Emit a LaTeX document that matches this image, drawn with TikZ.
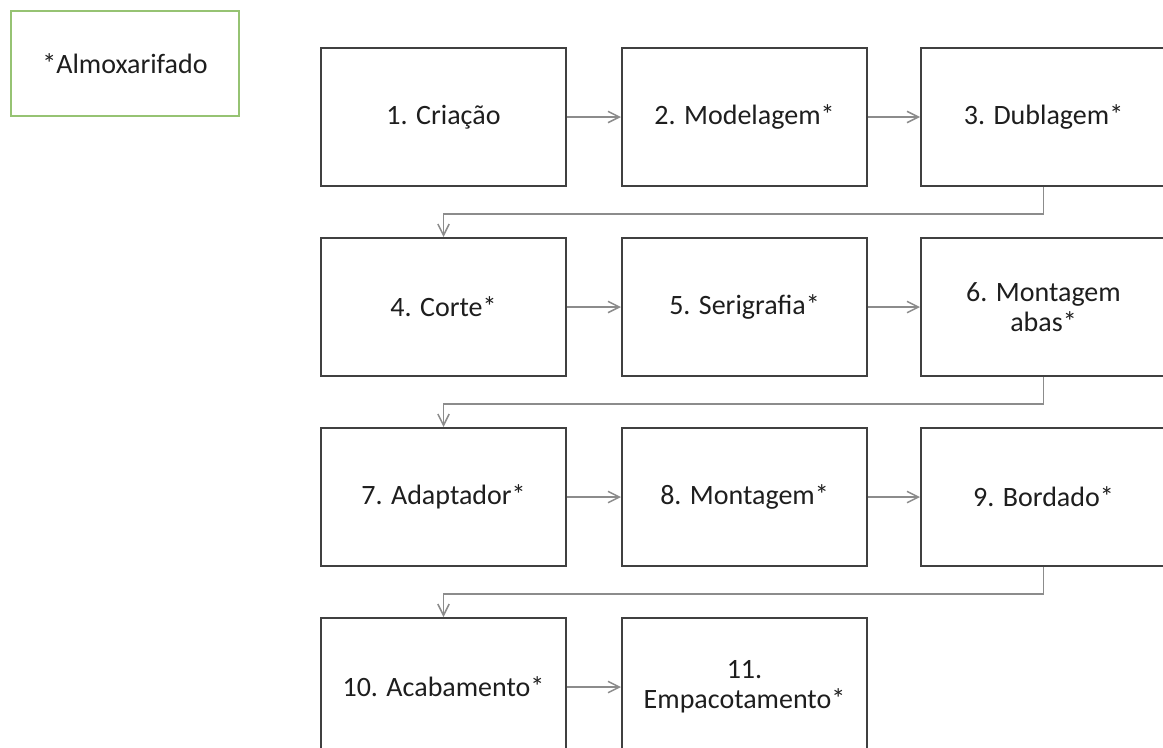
\documentclass[tikz,border=0pt]{standalone}
\usepackage{fontspec}
\setmainfont{Carlito}
\usetikzlibrary{arrows.meta}
\definecolor{boxline}{RGB}{64,64,64}
\definecolor{arrowline}{RGB}{140,140,140}
\definecolor{legendline}{RGB}{150,195,115}
\definecolor{labeltext}{RGB}{30,30,30}
\begin{document}
\begin{tikzpicture}[x=0.75pt,y=-0.75pt,
  labelfont/.style={font=\fontsize{21}{22.5}\selectfont,text=labeltext},
  stepbox/.style={draw=boxline,line width=1.5pt,fill=white,minimum width=183.75pt,
    minimum height=103.5pt,inner sep=0pt,align=center,anchor=north west,labelfont},
  legendbox/.style={draw=legendline,line width=1.1pt,minimum width=171pt,
    minimum height=78.75pt,inner sep=0pt,labelfont},
  flow/.style={draw=arrowline,line width=1.1pt,-{Straight Barb[length=8.5pt,width=8.5pt]}}]
\useasboundingbox (0,0) rectangle (1163,747);
\clip (0,0) rectangle (1163,747);
\fill[white] (0,0) rectangle (1163,747);

% legend
\node[legendbox] (key) at (125,63.5) {*Almoxarifado};

% process steps, three per row
\node[stepbox] (s1)  at (320,47)  {1. Criação};
\node[stepbox] (s2)  at (621,47)  {2. Modelagem*};
\node[stepbox] (s3)  at (920,47)  {3. Dublagem*};
\node[stepbox] (s4)  at (320,237) {4. Corte*};
\node[stepbox] (s5)  at (621,237) {5. Serigrafia*};
\node[stepbox] (s6)  at (920,237) {6. Montagem\\abas*};
\node[stepbox] (s7)  at (320,427) {7. Adaptador*};
\node[stepbox] (s8)  at (621,427) {8. Montagem*};
\node[stepbox] (s9)  at (920,427) {9. Bordado*};
\node[stepbox] (s10) at (320,617) {10. Acabamento*};
\node[stepbox] (s11) at (621,617) {11.\\Empacotamento*};

% arrows within a row
\draw[flow] (s1) -- (s2);
\draw[flow] (s2) -- (s3);
\draw[flow] (s4) -- (s5);
\draw[flow] (s5) -- (s6);
\draw[flow] (s7) -- (s8);
\draw[flow] (s8) -- (s9);
\draw[flow] (s10) -- (s11);

% return connectors to the next row
\draw[flow] (s3.south) -- ++(0,27) -| (s4.north);
\draw[flow] (s6.south) -- ++(0,27) -| (s7.north);
\draw[flow] (s9.south) -- ++(0,27) -| (s10.north);
\end{tikzpicture}
\end{document}
